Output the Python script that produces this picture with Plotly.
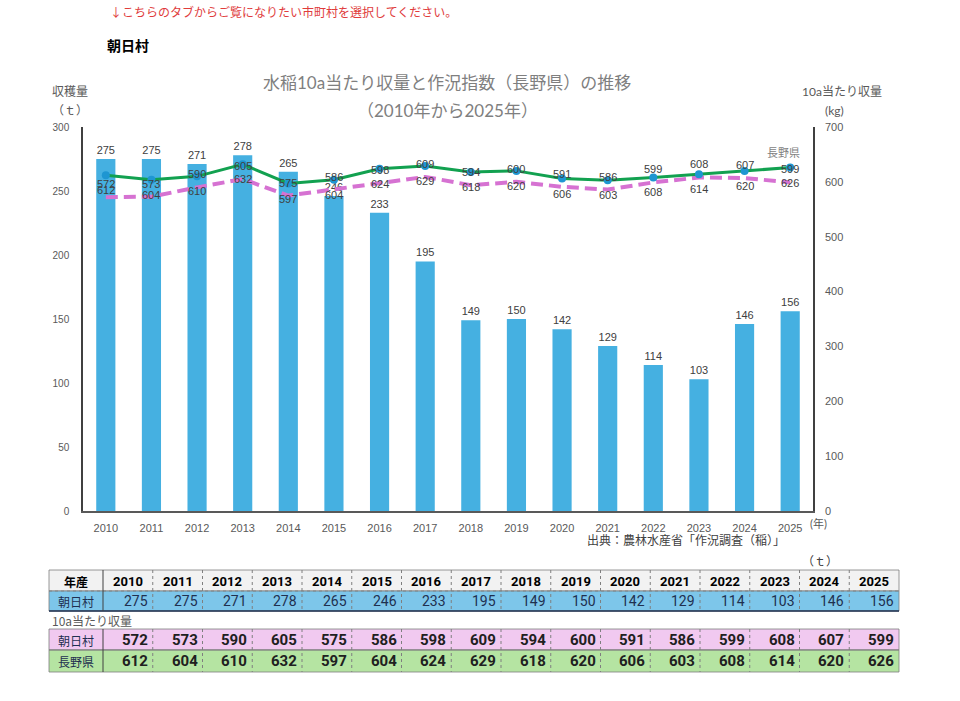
import plotly.graph_objects as go

years = ["2010", "2011", "2012", "2013", "2014", "2015", "2016", "2017",
         "2018", "2019", "2020", "2021", "2022", "2023", "2024", "2025"]
harvest_t = [275, 275, 271, 278, 265, 246, 233, 195, 149, 150, 142, 129, 114, 103, 146, 156]
asahi_kg = [572, 573, 590, 605, 575, 586, 598, 609, 594, 600, 591, 586, 599, 608, 607, 599]
nagano_kg = [612, 604, 610, 632, 597, 604, 624, 629, 618, 620, 606, 603, 608, 614, 620, 626]

left_ticks = [0, 50, 100, 150, 200, 250, 300]
right_ticks = [0, 100, 200, 300, 400, 500, 600, 700]

FONT = "Lato, 'Noto Sans CJK JP', sans-serif"
NFONT = "'Liberation Sans', Arial, sans-serif"
JFONT = "'Noto Sans CJK JP', sans-serif"
NUMF = "'Liberation Sans Narrow', 'Roboto', 'Liberation Sans', sans-serif"
GRAY = "#595959"
DARK = "#404040"

# plot area in pixels
L, R, T, B = 83, 813, 127, 511
W, H = 960, 701


def px(x):
    return (x - L) / (R - L)


def py(y):
    return (B - y) / (B - T)


fig = go.Figure()
fig.add_trace(go.Bar(
    x=years, y=harvest_t, marker=dict(color="#45B0E1", line=dict(width=0)),
    text=[str(v) for v in harvest_t], textposition="outside",
    textfont=dict(size=11, color=DARK, family=NFONT), cliponaxis=False,
    width=0.42, yaxis="y", name="収穫量"))
fig.add_trace(go.Scatter(
    x=years, y=asahi_kg, mode="lines", yaxis="y2", name="朝日村",
    line=dict(color="#D672D2", width=4, dash="12px,6px")))
fig.add_trace(go.Scatter(
    x=years, y=nagano_kg, mode="lines+markers", yaxis="y2", name="長野県",
    line=dict(color="#12A150", width=3),
    marker=dict(color="#1E96D2", size=8)))

ann = []
for i, v in enumerate(asahi_kg):
    ann.append(dict(x=i, y=v, xref="x", yref="y2", text=str(v), showarrow=False,
                    yshift=13, font=dict(size=11, color=DARK, family=NFONT)))
for i, v in enumerate(nagano_kg):
    ann.append(dict(x=i, y=v, xref="x", yref="y2", text=str(v), showarrow=False,
                    yshift=-15, font=dict(size=11, color=DARK, family=NFONT)))


def txt(x, y, s, size=11, color=GRAY, anchor="center", family=FONT, bold=False):
    if bold:
        s = "<b>" + s + "</b>"
    ann.append(dict(x=px(x), y=py(y), xref="paper", yref="paper", text=s,
                    showarrow=False, xanchor=anchor, yanchor="middle",
                    font=dict(size=size, color=color, family=family)))


# header texts
txt(108, 12, "↓こちらのタブからご覧になりたい市町村を選択してください。", 12, "#E03C3C", "left", JFONT)
txt(105, 45, "朝日村", 14, "#000000", "left", JFONT, bold=True)
txt(447, 82, "水稲10a当たり収量と作況指数（長野県）の推移", 17, "#7F7F7F")
txt(447, 110, "（2010年から2025年）", 17, "#7F7F7F")
txt(70, 91, "収穫量", 12, GRAY)
txt(70, 110, "（ｔ）", 12, GRAY)
txt(842, 91, "10a当たり収量", 12, GRAY)
txt(834, 110, "(kg)", 12, GRAY)
txt(783, 152, "長野県", 11, "#7F7F7F")
txt(808, 523, "(年)", 11, GRAY, "left")
txt(686, 540, "出典：農林水産省「作況調査（稲）」", 12, "#404040")
txt(820, 561, "（ｔ）", 12, "#404040")

# table
shapes = []
TL, TC, TR = 49, 103, 899
cw = (TR - TC) / len(years)


def rect(x0, y0, x1, y1, fill, lw=1, lc="#595959"):
    shapes.append(dict(type="rect", xref="paper", yref="paper",
                       x0=px(x0), x1=px(x1), y0=py(y1), y1=py(y0),
                       fillcolor=fill, line=dict(color=lc, width=lw)))


def vline(x, y0, y1, dash="dot", color="#7F7F7F", lw=1):
    shapes.append(dict(type="line", xref="paper", yref="paper",
                       x0=px(x), x1=px(x), y0=py(y0), y1=py(y1),
                       line=dict(color=color, width=lw, dash=dash)))


def hline(x0, x1, y, color="#404040", lw=1, dash="solid"):
    shapes.append(dict(type="line", xref="paper", yref="paper",
                       x0=px(x0), x1=px(x1), y0=py(y), y1=py(y),
                       line=dict(color=color, width=lw, dash=dash)))


rows = [
    (570, 591, "#F2F2F2"),
    (591, 611, "#7DC6EA"),
    (629, 650, "#F1C9F0"),
    (650, 672, "#B5E4A2"),
]
for y0, y1, fill in rows:
    rect(TL, y0, TR, y1, fill, 0.8, "#7F7F7F")
hline(TL, TR, 591, "#7F7F7F", 0.8, "dot")
hline(TL, TR, 611, "#1F3050", 1.5)
hline(TL, TR, 650, "#7F7F7F", 0.8)
for (y0, y1) in [(570, 611), (629, 672)]:
    vline(TC, y0, y1, "solid", "#404040", 1)
    for i in range(1, len(years)):
        vline(TC + i * cw, y0, y1, "dot", "#7F7F7F", 1)

txt((TL + TC) / 2, 581, "年産", 12, "#000000", bold=True, family=JFONT)
txt((TL + TC) / 2, 601, "朝日村", 12, "#1F3050", family=JFONT)
txt(50, 620, "10a当たり収量", 12, GRAY, "left", JFONT)
txt((TL + TC) / 2, 640, "朝日村", 12, "#1F3050", family=JFONT)
txt((TL + TC) / 2, 661, "長野県", 12, "#1F3050", family=JFONT)
for i, yr in enumerate(years):
    c0 = TC + i * cw
    txt(c0 + cw / 2, 581, yr, 13, "#000000", family=NUMF, bold=True)
    txt(c0 + cw - 3, 601, str(harvest_t[i]), 14, "#1F3050", "right", NUMF)
    txt(c0 + cw - 3, 640, str(asahi_kg[i]), 15, "#202020", "right", NUMF, bold=True)
    txt(c0 + cw - 3, 661, str(nagano_kg[i]), 15, "#202020", "right", NUMF, bold=True)

fig.update_layout(
    width=W, height=H,
    margin=dict(l=L, r=W - R, t=T, b=H - B, pad=0),
    paper_bgcolor="white", plot_bgcolor="white",
    showlegend=False, bargap=0.58,
    font=dict(family=NFONT, size=11, color=GRAY),
    xaxis=dict(type="category", range=[-0.5, len(years) - 0.5], showgrid=False,
               showline=True, linecolor="#595959", linewidth=1.5, ticks="",
               tickfont=dict(size=11, color=GRAY, family=NFONT), ticklabelstandoff=6),
    yaxis=dict(range=[0, 300], tickvals=left_ticks, showgrid=False, zeroline=False,
               showline=True, linecolor="#404040", linewidth=1.5, ticks="",
               tickfont=dict(size=10, color=GRAY, family=NFONT), ticklabelstandoff=10),
    yaxis2=dict(range=[0, 700], tickvals=right_ticks, overlaying="y", side="right",
                showgrid=False, zeroline=False, showline=True, linecolor="#404040",
                linewidth=1.5, ticks="", tickfont=dict(size=11, color=GRAY, family=NFONT),
                ticklabelstandoff=8),
    annotations=ann, shapes=shapes,
)

fig.write_html("out.html")
